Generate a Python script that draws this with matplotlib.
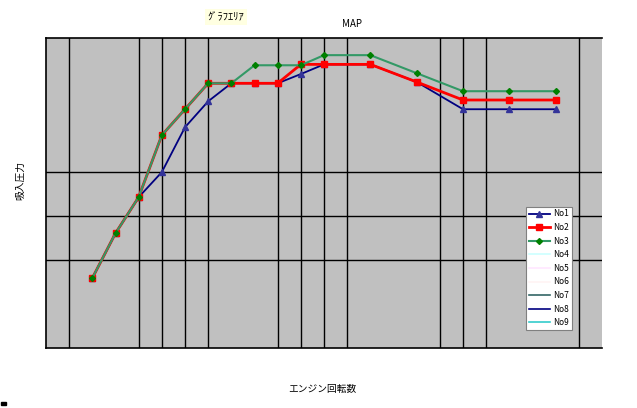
import matplotlib
matplotlib.use("Agg")
import matplotlib.pyplot as plt
from matplotlib.lines import Line2D
from matplotlib.patches import Rectangle

plt.rcParams['font.family'] = ['Noto Sans CJK JP', 'DejaVu Sans']

# engine speed (rpm) and intake pressure for each run
rpm = [1000, 1500, 2000, 2500, 3000, 3500, 4000, 4500, 5000,
       5500, 6000, 7000, 8000, 9000, 10000, 11000]
no1 = [1.59, 2.61, 3.43, 4.00, 5.02, 5.61, 6.02, 6.02, 6.02,
       6.23, 6.45, 6.45, 6.05, 5.43, 5.43, 5.43]
no2 = [1.59, 2.61, 3.43, 4.84, 5.43, 6.02, 6.02, 6.02, 6.02,
       6.45, 6.45, 6.45, 6.05, 5.64, 5.64, 5.64]
no3 = [1.59, 2.61, 3.43, 4.84, 5.43, 6.02, 6.02, 6.43, 6.43,
       6.43, 6.66, 6.66, 6.25, 5.84, 5.84, 5.84]

# the sheet's odd vertical gridlines and the horizontal ones
grid_x = [500, 2000, 2500, 3000, 3500, 5000, 5500, 6000, 6500,
          8500, 9000, 9500, 11500]
grid_y = [2, 3, 4]

legend_names = ["No1", "No2", "No3", "No4", "No5", "No6", "No7", "No8", "No9"]

fig = plt.figure(figsize=(6.37, 4.08), dpi=100)
ax = fig.add_axes([46 / 637, 60 / 408, 556 / 637, 310 / 408])
ax.set_facecolor('#C0C0C0')

ax.set_xlim(0, 12000)
ax.set_ylim(0, 7.05)
ax.set_xticks(grid_x)
ax.set_yticks(grid_y)
ax.tick_params(length=0, labelbottom=False, labelleft=False)
ax.grid(True, color='black', linewidth=1.0)
ax.set_axisbelow(True)
for side in ['left', 'bottom', 'top']:
    ax.spines[side].set_color('black')
    ax.spines[side].set_linewidth(1.2)
ax.spines['right'].set_visible(False)

ax.plot(rpm, no1, color='#000080', lw=1.3, marker='^', ms=4,
        mfc='#333399', mec='#333399', label='No1')
ax.plot(rpm, no2, color='#FF0000', lw=2.0, marker='s', ms=4.5,
        mfc='#FF0000', mec='#FF0000', label='No2')
ax.plot(rpm, no3, color='#339966', lw=1.5, marker='D', ms=3,
        mfc='#008000', mec='#008000', label='No3')

# empty series still listed in the legend
others = ['#CCFFFF', '#FFE6FF', '#FFF4F4', '#336666', '#000080', '#33CCCC']
handles, labels = ax.get_legend_handles_labels()
for name, col in zip(legend_names[3:], others):
    handles.append(Line2D([], [], color=col, lw=1.2))
    labels.append(name)

leg = ax.legend(handles, labels, loc='upper left',
                bbox_to_anchor=((526 - 46) / 556, (348 - 207) / 310),
                fontsize=6, frameon=True, fancybox=False, handlelength=2.6,
                handletextpad=0.4, borderpad=0.3, labelspacing=0.55,
                borderaxespad=0)
leg.get_frame().set_edgecolor('#808080')
leg.get_frame().set_linewidth(0.8)
leg.get_frame().set_facecolor('white')
leg.get_frame().set_alpha(1)

fig.text(352 / 637, 1 - 24 / 408, 'MAP', ha='center', va='center', fontsize=7)
fig.text(226 / 637, 1 - 17 / 408, 'ｸﾞﾗﾌｴﾘｱ', ha='center', va='center',
         fontsize=7.5,
         bbox=dict(boxstyle='square,pad=0.25', fc='#FFFFE1', ec='none'))
fig.text(322 / 637, 1 - 389 / 408, 'エンジン回転数', ha='center', va='center',
         fontsize=7)
fig.text(20 / 637, 1 - 180 / 408, '吸入圧力', ha='center', va='center',
         fontsize=7, rotation=90)

fig.patches.append(Rectangle((1 / 637, 3 / 408), 5 / 637, 3 / 408,
                             transform=fig.transFigure, color='black'))

fig.savefig('out.png', dpi=100)
